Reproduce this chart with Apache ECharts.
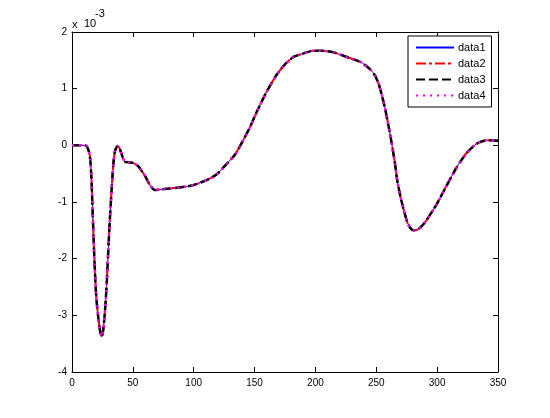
<!DOCTYPE html>
<html>
<head>
<meta charset="utf-8">
<script src="https://cdn.jsdelivr.net/npm/echarts@6/dist/echarts.min.js"></script>
<style>html,body{margin:0;padding:0;background:#fff}#c{width:550px;height:418px}</style>
</head>
<body>
<div id="c"></div>
<script>
// x positions (samples) and values in units of 1e-3
var xs = [0, 5, 10, 12, 14, 15, 16, 17, 18, 19, 20, 21.5, 23, 24.4, 25.7, 27.1, 28.5, 29.8, 31.2, 32.5, 33.9, 35.3, 37.5, 39.4, 41.6, 43.5, 47, 50, 54.5, 60, 64, 68, 72, 80, 90, 100, 111, 119, 127, 134, 139.4, 146, 152, 160, 168, 175, 182, 190, 198, 206, 215, 223, 231, 238, 245, 249, 252, 254.4, 257, 259, 261.3, 263.5, 265.4, 267.3, 270, 272.8, 275.5, 278, 280.5, 284.6, 290, 299.6, 307.8, 316, 324, 332.5, 340.7, 350];
var data1 = [0, 0, 0, -0.01, -0.12, -0.25, -0.6, -1.2, -1.8, -2.3, -2.7, -3.02, -3.27, -3.38, -3.25, -2.92, -2.45, -1.86, -1.27, -0.8, -0.35, -0.1, -0.01, -0.07, -0.21, -0.29, -0.3, -0.31, -0.37, -0.54, -0.7, -0.79, -0.78, -0.76, -0.74, -0.7, -0.61, -0.51, -0.33, -0.16, 0.04, 0.31, 0.6, 0.95, 1.24, 1.43, 1.56, 1.62, 1.67, 1.67, 1.64, 1.58, 1.52, 1.46, 1.34, 1.23, 1.08, 0.9, 0.67, 0.46, 0.2, -0.07, -0.33, -0.63, -0.92, -1.16, -1.36, -1.46, -1.5, -1.48, -1.36, -1.04, -0.71, -0.39, -0.14, 0.03, 0.09, 0.08];
var data2 = data1.slice();
var data3 = data1.slice();
var data4 = data1.slice();
var seriesNames = ['data1', 'data2', 'data3', 'data4'];
var xTicks = [0, 50, 100, 150, 200, 250, 300, 350];
var yTicks = [-4, -3, -2, -1, 0, 1, 2];

function pairs(v) { return xs.map(function (x, i) { return [x, v[i]]; }); }

var FONT = 'Liberation Sans';
var chart = echarts.init(document.getElementById('c'), null, { renderer: 'canvas' });
function common() {
  return {
    axisLine: { show: true, onZero: false, lineStyle: { color: '#000', width: 1 } },
    axisTick: { show: true, inside: true, length: 5, lineStyle: { color: '#000' } },
    splitLine: { show: false }
  };
}
function mkX(pos, showLabel) {
  return Object.assign(common(), {
    type: 'value', position: pos, min: xTicks[0], max: xTicks[xTicks.length - 1], interval: xTicks[1] - xTicks[0],
    axisLabel: { show: showLabel, color: '#000', fontFamily: FONT, fontSize: 10, margin: 6 }
  });
}
function mkY(pos, showLabel) {
  return Object.assign(common(), {
    type: 'value', position: pos, min: yTicks[0], max: yTicks[yTicks.length - 1], interval: yTicks[1] - yTicks[0],
    axisLabel: { show: showLabel, color: '#000', fontFamily: FONT, fontSize: 10, margin: 5 }
  });
}
var styles = [
  { color: '#0000ff', width: 1, type: 'solid' },
  { color: '#ff0000', width: 2, type: [10, 3, 3, 3] },
  { color: '#000000', width: 2.5, type: [9, 4] },
  { color: '#ff00ff', width: 2.5, type: [2, 5] }
];
var allData = [data1, data2, data3, data4];
chart.setOption({
  animation: false,
  backgroundColor: '#fff',
  grid: { left: 72, right: 52, top: 32, bottom: 46, containLabel: false },
  xAxis: [mkX('bottom', true), mkX('top', false)],
  yAxis: [mkY('left', true), mkY('right', false)],
  legend: {
    data: seriesNames, orient: 'vertical', left: 408, top: 36,
    itemWidth: 38, itemHeight: 10, itemGap: 5,
    padding: [6, 6, 6, 7],
    borderColor: '#000', borderWidth: 1, backgroundColor: '#fff',
    itemStyle: { color: 'rgba(0,0,0,0)', borderColor: 'rgba(0,0,0,0)', borderWidth: 0 },
    textStyle: { color: '#000', fontFamily: FONT, fontSize: 11, padding: [0, 0, 0, -1] }
  },
  graphic: [
    { type: 'text', left: 72, top: 19, style: { text: 'x', fill: '#000', font: '11px ' + FONT } },
    { type: 'text', left: 84, top: 18, style: { text: '10', fill: '#000', font: '11px ' + FONT } },
    { type: 'text', left: 95, top: 8, style: { text: '-3', fill: '#000', font: '11px ' + FONT } }
  ],
  series: allData.map(function (d, i) {
    return {
      name: seriesNames[i], type: 'line', data: pairs(d),
      showSymbol: false, symbol: 'none', smooth: 0.2,
      lineStyle: styles[i], itemStyle: { color: styles[i].color },
      z: 2 + i
    };
  })
});
</script>
</body>
</html>
